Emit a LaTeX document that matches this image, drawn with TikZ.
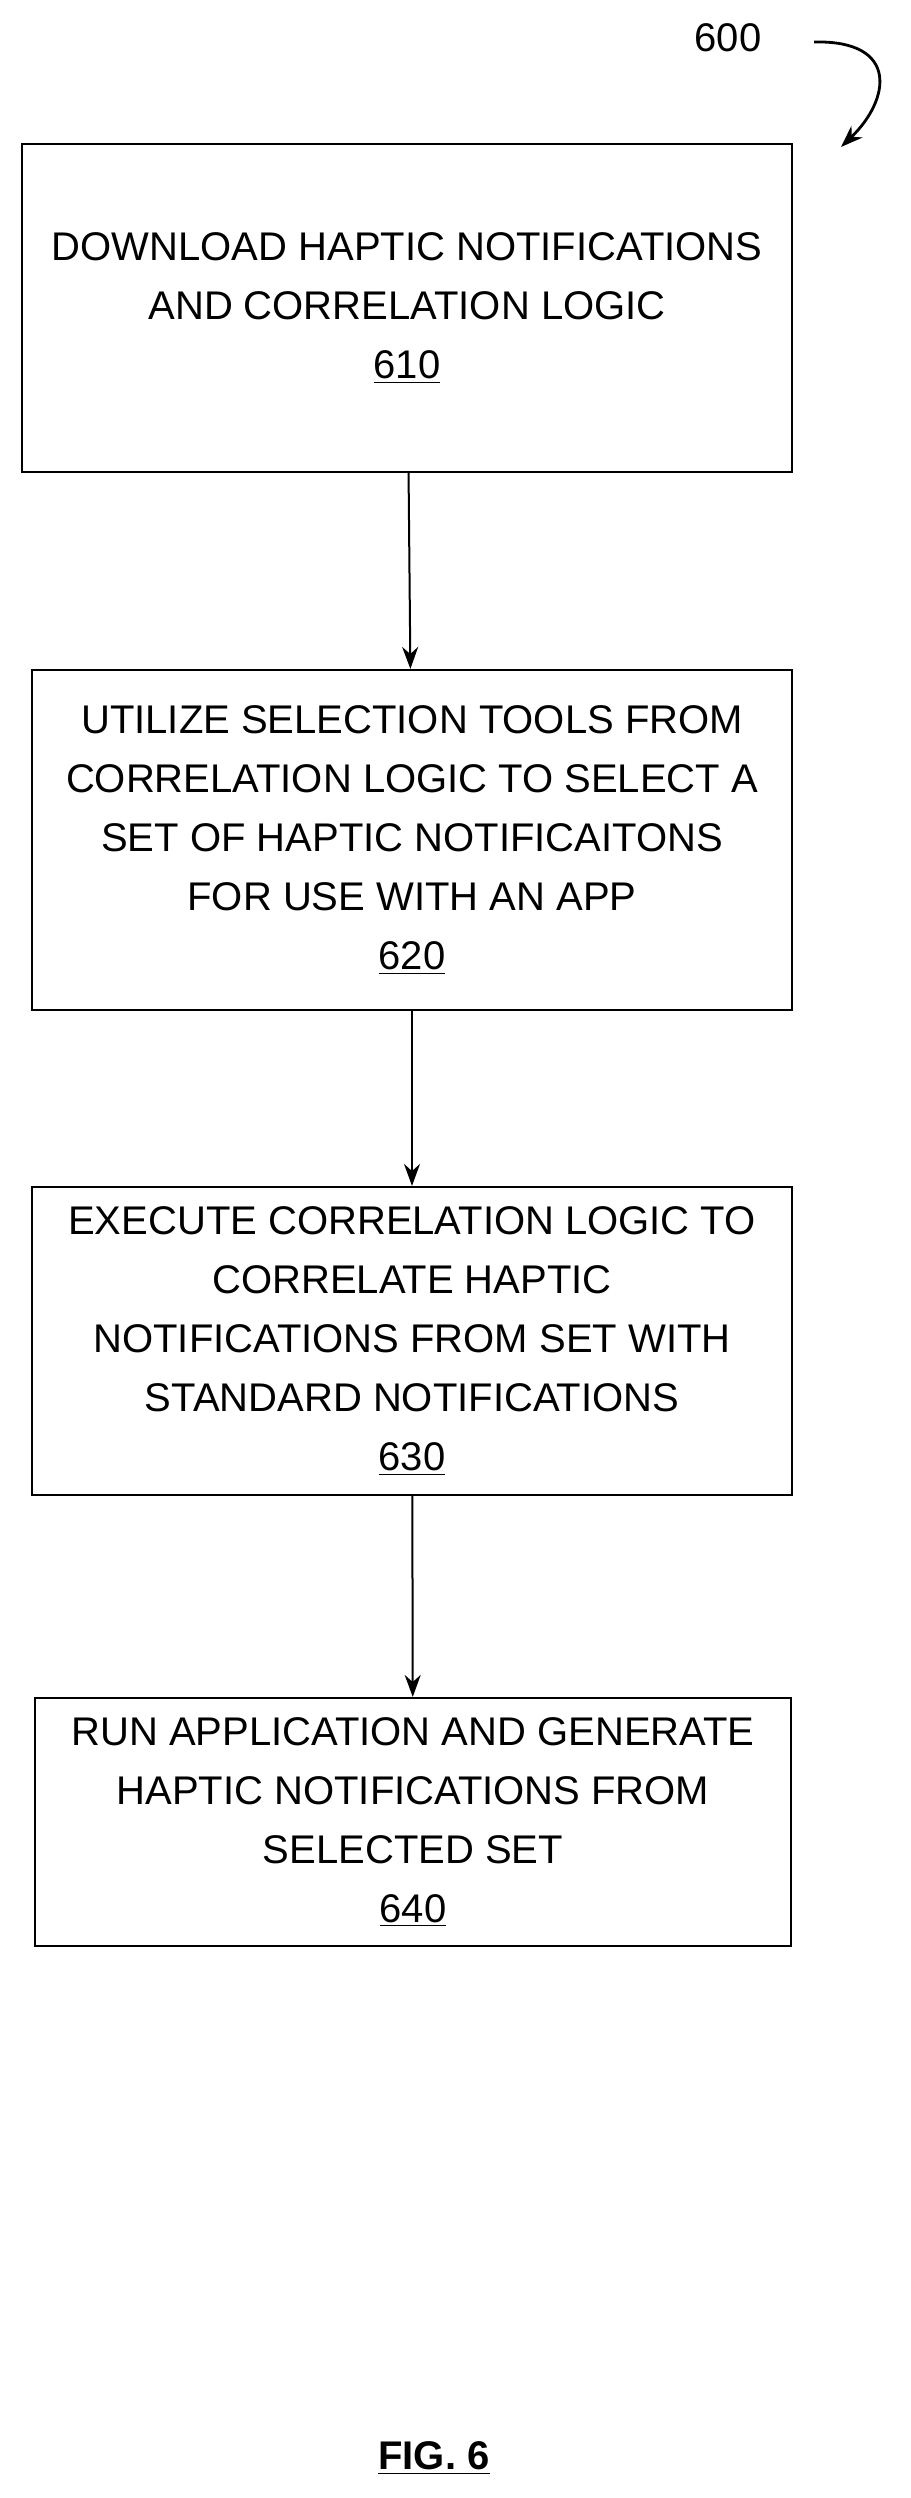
\documentclass[tikz,border=0pt]{standalone}
\usepackage{fontspec}
\setmainfont{Liberation Sans}
\usetikzlibrary{arrows.meta,positioning}

\begin{document}
\begin{tikzpicture}
	% Styles
	[
	x=0.5pt, y=-0.5pt,
	stepbox/.style={draw, line width=1.1pt, align=center, inner sep=0pt,
		font=\fontsize{20}{29.5}\selectfont},
	flow/.style={-{Stealth[length=11pt,width=8pt]}, line width=1pt},
	]
	\useasboundingbox (0,0) rectangle (910,2498);

	% Nodes
	\node at (407,308)	(s610)	[stepbox, minimum width=385pt, minimum height=164pt]
		{DOWNLOAD HAPTIC NOTIFICATIONS\\AND CORRELATION LOGIC\\\underline{610}};
	\node at (412,840)	(s620)	[stepbox, minimum width=380pt, minimum height=170pt]
		{UTILIZE SELECTION TOOLS FROM\\CORRELATION LOGIC TO SELECT A\\SET OF HAPTIC NOTIFICAITONS\\FOR USE WITH AN APP\\\underline{620}};
	\node at (412,1341)	(s630)	[stepbox, minimum width=380pt, minimum height=154pt]
		{EXECUTE CORRELATION LOGIC TO\\CORRELATE HAPTIC\\NOTIFICATIONS FROM SET WITH\\STANDARD NOTIFICATIONS\\\underline{630}};
	\node at (413,1822)	(s640)	[stepbox, minimum width=378pt, minimum height=124pt]
		{RUN APPLICATION AND GENERATE\\HAPTIC NOTIFICATIONS FROM\\SELECTED SET\\\underline{640}};
	\node at (728,38)	(fig)	[font=\fontsize{20}{24}\selectfont] {600};
	\node at (434,2458)	(cap)	[font=\bfseries\fontsize{20}{24}\selectfont] {\underline{FIG. 6}};
	\coordinate (tail) at (814,42);
	\coordinate (tip) at (841,147);

	% Connections
	\draw[flow] (s610) -- (s620);
	\draw[flow] (s620) -- (s630);
	\draw[flow] (s630) -- (s640);
	\draw[flow, line width=1.4pt] (tail) .. controls (900,40) and (890,100) .. (tip);

\end{tikzpicture}
\end{document}
